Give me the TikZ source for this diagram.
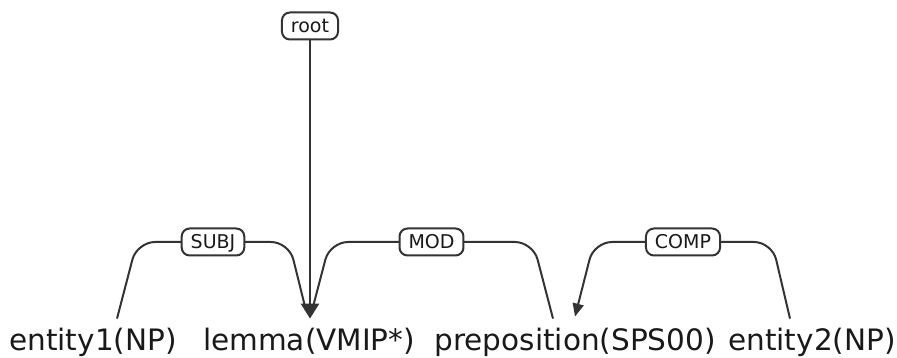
\documentclass[tikz,border=0pt]{standalone}
\usepackage{fontspec}
\setmainfont{DejaVu Sans}
\usetikzlibrary{arrows.meta}

\begin{document}
\begin{tikzpicture}
      [x=1pt,y=-1pt,line width=2pt,color=black!80,
       word/.style={font=\fontsize{29.5}{29.5}\selectfont,text=black!90,inner xsep=0pt,inner ysep=8pt,anchor=base},
       deplabel/.style={draw,fill=white,rounded corners=8pt,line width=2pt,text=black!90,
         font=\fontsize{19}{19}\selectfont,inner xsep=9pt,inner ysep=6pt,
         text height=14pt,text depth=1pt}]
      \useasboundingbox (0,0) rectangle (897,358);

      \foreach \name/\x/\word in {e1/93/entity1(NP), lemma/309/lemma(VMIP*),
                                  prep/575/preposition(SPS00), e2/812/entity2(NP)}
      \node[word] (\name) at (\x,350) {\word};

      \node[deplabel] (root) at (310,26) {root};
      \draw[line width=2.5pt,-{Triangle[width=18pt,length=15pt]}] (root) -- (root |- lemma.north);

      \draw[rounded corners=18pt] ([xshift=24pt]e1.north) -- (137,242)
        -- node[deplabel] (subj) {SUBJ} (289,242) -- ([xshift=-3pt,yshift=8pt]lemma.north);
      \draw[rounded corners=18pt] ([xshift=3pt,yshift=8pt]lemma.north) -- (330,242)
        -- node[deplabel] (mod) {MOD} (533,242) -- ([xshift=-22pt]prep.north);
      \draw[rounded corners=18pt,-{Triangle[width=11pt,length=13pt]}] ([xshift=-22pt]e2.north) -- (772,242)
        -- node[deplabel] (comp) {COMP} (594,242) -- ([yshift=2pt]prep.north);
    \end{tikzpicture}
\end{document}
